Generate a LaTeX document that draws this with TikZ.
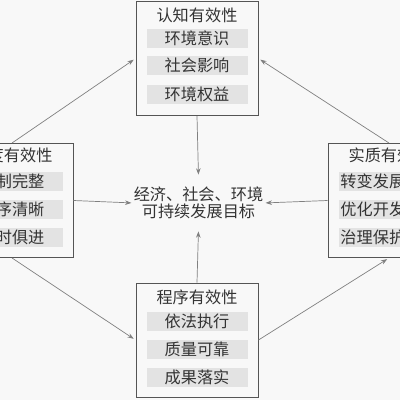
\documentclass[tikz,border=0pt]{standalone}
\usepackage{fontspec}
\setmainfont{Noto Sans CJK SC}
\usepackage{xcolor}
\usepackage{tikz}
\usetikzlibrary{arrows.meta}
\definecolor{frame}{HTML}{555555}
\definecolor{itembg}{HTML}{E3E3E3}
\definecolor{wire}{HTML}{808080}
\definecolor{ink}{HTML}{333333}
\definecolor{paper}{HTML}{F8F8F8}
\tikzset{
  box/.style={draw=frame, line width=0.7pt, minimum width=30.5mm, minimum height=28.5mm, inner sep=0pt},
  ttl/.style={text=ink, font=\fontsize{11.5}{12}\selectfont, inner sep=0pt},
  item/.style={fill=itembg, text=ink, font=\fontsize{11.5}{12}\selectfont, minimum width=25.25mm, minimum height=4.75mm, inner sep=0pt},
  goal/.style={text=ink, font=\fontsize{11.5}{12.4}\selectfont, align=center, minimum width=31.25mm, minimum height=13mm, inner sep=0pt},
  arr/.style={-{Stealth[length=4.5pt,width=3.2pt]}, draw=wire, line width=0.5pt, shorten >=1.5pt}
}

\begin{document}
\begin{tikzpicture}[x=0.25mm,y=-0.25mm]
  \fill[paper] (0,0) rectangle (400,400);
  \useasboundingbox (0,0) rectangle (400,400);
  \clip (0,0) rectangle (400,400);

  % the four boxes
  \node[box] (T) at (197,58.5) {};
  \node[box] (B) at (197,340) {};
  \node[box] (L) at (12,200.5) {};
  \node[box] (R) at (389,200.5) {};

  % top
  \node[ttl] (Tt) at (197,15) {认知有效性};
  \node[item] (T1) at (197,38) {环境意识};
  \node[item] (T2) at (197,65.5) {社会影响};
  \node[item] (T3) at (197,94) {环境权益};

  % bottom
  \node[ttl] (Bt) at (197,297) {程序有效性};
  \node[item] (B1) at (197,321) {依法执行};
  \node[item] (B2) at (197,349) {质量可靠};
  \node[item] (B3) at (197,377) {成果落实};

  % left (cut by the edge)
  \node[ttl] (Lt) at (12,155) {制度有效性};
  \node[item] (L1) at (12,181) {体制完整};
  \node[item] (L2) at (12,209.5) {程序清晰};
  \node[item] (L3) at (12,237.5) {与时俱进};

  % right (cut by the edge)
  \node[ttl] (Rt) at (389,155) {实质有效性};
  \node[item] (R1) at (389,181) {转变发展方式};
  \node[item] (R2) at (389,209.5) {优化开发格局};
  \node[item] (R3) at (389,237.5) {治理保护生态};

  % centre
  \node[goal] (C) at (198.5,203) {经济、社会、环境\\可持续发展目标};

  \draw[arr] (T.south) -- (C.north);
  \draw[arr] (B.north) -- (C.south);
  \draw[arr] (L.east) -- (C.west);
  \draw[arr] (R.west) -- (C.east);

  \draw[arr] (L.north) -- (T.west);
  \draw[arr] (R.north) -- (T.east);
  \draw[arr] (L.south) -- (B.west);
  \draw[arr] (B.east) -- (R.south);
\end{tikzpicture}
\end{document}
